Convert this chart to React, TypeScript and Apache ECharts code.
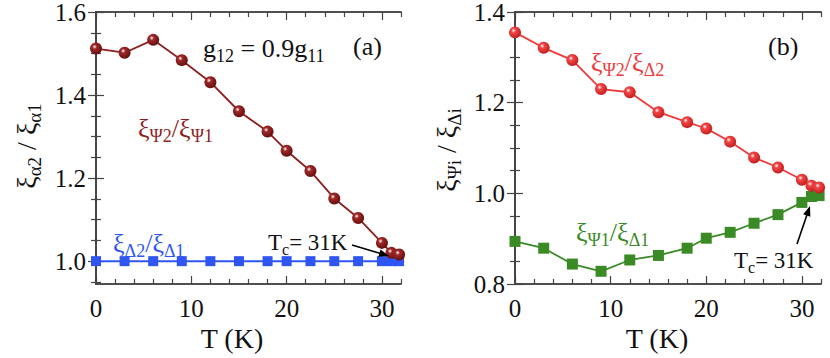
import React, { useEffect, useRef } from "react";
import * as echarts from "echarts";

// ---- data ----
const tempA = [0, 3, 6, 9, 12, 15, 18, 20, 22.5, 25, 27.5, 30, 31, 31.8];
const psiRatioA = [1.512, 1.502, 1.533, 1.484, 1.431, 1.361, 1.312, 1.266, 1.217, 1.151, 1.104, 1.044, 1.02, 1.016];
const deltaRatioA = [1, 1, 1, 1, 1, 1, 1, 1, 1, 1, 1, 1, 1, 1];

const tempB = [0, 3, 6, 9, 12, 15, 18, 20, 22.5, 25, 27.5, 30, 31, 31.8];
const psi2Delta2 = [1.355, 1.321, 1.294, 1.23, 1.223, 1.179, 1.157, 1.143, 1.114, 1.079, 1.057, 1.03, 1.017, 1.013];
const psi1Delta1 = [0.894, 0.879, 0.844, 0.828, 0.853, 0.863, 0.879, 0.901, 0.914, 0.934, 0.953, 0.98, 0.993, 0.995];

const xMajor = [0, 10, 20, 30];
const xMinor = [2, 4, 6, 8, 12, 14, 16, 18, 22, 24, 26, 28, 32];
const yMajorA = [1.0, 1.2, 1.4, 1.6];
const yMinorA = [0.95, 1.05, 1.1, 1.15, 1.25, 1.3, 1.35, 1.45, 1.5, 1.55];
const yMajorB = [0.8, 1.0, 1.2, 1.4];
const yMinorB = [0.85, 0.9, 0.95, 1.05, 1.1, 1.15, 1.25, 1.3, 1.35];

const FONT = "Liberation Serif";
const AXIS_COLOR = "#444";
const DARKRED = "#8e1f1f";
const BLUE = "#2f55f2";
const RED = "#ee3a3a";
const GREEN = "#3a8a26";

const richGfx = (color: string, size: number) => ({
  a: { fontFamily: FONT, fontSize: size, fill: color, lineHeight: size + 8, verticalAlign: "middle" },
  s: { fontFamily: FONT, fontSize: Math.round(size * 0.68), fill: color, lineHeight: Math.round(size * 0.68), verticalAlign: "bottom" },
});

function sphere(base: string, dark: string) {
  return {
    type: "radial",
    x: 0.38,
    y: 0.35,
    r: 0.75,
    colorStops: [
      { offset: 0, color: "#ffffff" },
      { offset: 0.25, color: base },
      { offset: 1, color: dark },
    ],
  };
}

const tickStyle = { color: AXIS_COLOR, width: 1.2 };

function makeXAxes(grid: number) {
  const common = {
    type: "value",
    gridIndex: grid,
    min: 0,
    max: 32,
    axisLine: { show: true, lineStyle: { color: AXIS_COLOR, width: 1.5 } },
    splitLine: { show: false },
    axisLabel: { show: false },
  };
  return [
    { ...common, position: "bottom", axisTick: { show: true, inside: true, length: 8, customValues: xMajor, lineStyle: tickStyle } },
    { ...common, position: "bottom", axisTick: { show: true, inside: true, length: 5, customValues: xMinor, lineStyle: tickStyle } },
    { ...common, position: "top", axisTick: { show: true, inside: true, length: 8, customValues: xMajor, lineStyle: tickStyle } },
    { ...common, position: "top", axisTick: { show: true, inside: true, length: 5, customValues: xMinor, lineStyle: tickStyle } },
  ];
}

function makeYAxes(grid: number, min: number, max: number, major: number[], minor: number[]) {
  const common = {
    type: "value",
    gridIndex: grid,
    min,
    max,
    axisLine: { show: true, lineStyle: { color: AXIS_COLOR, width: 1.5 } },
    splitLine: { show: false },
    axisLabel: { show: false },
  };
  return [
    { ...common, position: "left", axisTick: { show: true, inside: true, length: 8, customValues: major, lineStyle: tickStyle } },
    { ...common, position: "left", axisTick: { show: true, inside: true, length: 5, customValues: minor, lineStyle: tickStyle } },
    { ...common, position: "right", axisTick: { show: true, inside: true, length: 8, customValues: major, lineStyle: tickStyle } },
    { ...common, position: "right", axisTick: { show: true, inside: true, length: 5, customValues: minor, lineStyle: tickStyle } },
  ];
}

function pairs(xs: number[], ys: number[]) {
  return xs.map((x, i) => [x, ys[i]]);
}

function label(x: number, y: number, text: string, color: string, size: number, rotate = 0, align = "left", vAlign = "middle") {
  return {
    type: "text",
    x,
    y,
    rotation: rotate,
    z: 100,
    style: {
      text,
      rich: richGfx(color, size),
      fill: color,
      fontFamily: FONT,
      fontSize: size,
      align,
      verticalAlign: vAlign,
    },
  };
}

function plain(x: number, y: number, text: string, size: number, align: string, vAlign: string) {
  return {
    type: "text",
    x,
    y,
    z: 100,
    style: { text, fill: "#111", fontFamily: FONT, fontSize: size, align, verticalAlign: vAlign },
  };
}

function arrow(x1: number, y1: number, x2: number, y2: number) {
  const dx = x2 - x1;
  const dy = y2 - y1;
  const len = Math.sqrt(dx * dx + dy * dy);
  const ux = dx / len;
  const uy = dy / len;
  const hl = 10;
  const hw = 3.8;
  const bx = x2 - ux * hl;
  const by = y2 - uy * hl;
  return [
    { type: "line", z: 100, shape: { x1, y1, x2: bx + ux * 2, y2: by + uy * 2 }, style: { stroke: "#000", lineWidth: 1.6 } },
    {
      type: "polygon",
      z: 100,
      shape: { points: [[x2, y2], [bx - uy * hw, by + ux * hw], [bx + uy * hw, by - ux * hw]] },
      style: { fill: "#000" },
    },
  ];
}

export default function App() {
  const ref = useRef<HTMLDivElement>(null);
  useEffect(() => {
    if (!ref.current) return;
    const chart = echarts.init(ref.current, undefined, { renderer: "svg" });
    chart.setOption({
      animation: false,
      backgroundColor: "#ffffff",
      grid: [
        { left: 96, top: 12, width: 305, height: 272 },
        { left: 515, top: 12, width: 306, height: 272 },
      ],
      xAxis: [...makeXAxes(0), ...makeXAxes(1)],
      yAxis: [...makeYAxes(0, 0.945, 1.6, yMajorA, yMinorA), ...makeYAxes(1, 0.8, 1.4, yMajorB, yMinorB)],
      series: [
        {
          type: "line",
          xAxisIndex: 0,
          yAxisIndex: 0,
          data: pairs(tempA, deltaRatioA),
          symbol: "rect",
          symbolSize: 10,
          lineStyle: { color: BLUE, width: 2 },
          itemStyle: { color: BLUE },
          z: 3,
        },
        {
          type: "line",
          xAxisIndex: 0,
          yAxisIndex: 0,
          data: pairs(tempA, psiRatioA),
          symbol: "circle",
          symbolSize: 12,
          lineStyle: { color: DARKRED, width: 1.8 },
          itemStyle: { color: sphere("#a02828", "#5a0c0c") },
          z: 4,
        },
        {
          type: "line",
          xAxisIndex: 4,
          yAxisIndex: 4,
          data: pairs(tempB, psi2Delta2),
          symbol: "circle",
          symbolSize: 12,
          lineStyle: { color: RED, width: 1.8 },
          itemStyle: { color: sphere("#f24545", "#b81818") },
          z: 4,
        },
        {
          type: "line",
          xAxisIndex: 4,
          yAxisIndex: 4,
          data: pairs(tempB, psi1Delta1),
          symbol: "rect",
          symbolSize: 11,
          lineStyle: { color: GREEN, width: 1.8 },
          itemStyle: { color: GREEN },
          z: 3,
        },
      ],
    });

    // tick labels placed through the axes' own scales
    const tickTexts: any[] = [];
    try {
      const panels = [
        { xi: 0, yi: 0, yMin: 0.945, yMajor: yMajorA },
        { xi: 4, yi: 4, yMin: 0.8, yMajor: yMajorB },
      ];
      panels.forEach((p) => {
        const bottom = chart.convertToPixel({ yAxisIndex: p.yi }, p.yMin) as number;
        const left = chart.convertToPixel({ xAxisIndex: p.xi }, 0) as number;
        xMajor.forEach((v) => {
          const px = chart.convertToPixel({ xAxisIndex: p.xi }, v) as number;
          tickTexts.push(plain(px, bottom + 12, String(v), 25, "center", "top"));
        });
        p.yMajor.forEach((v) => {
          const py = chart.convertToPixel({ yAxisIndex: p.yi }, v) as number;
          tickTexts.push(plain(left - 10, py, v.toFixed(1), 25, "right", "middle"));
        });
      });
    } catch (e) {
      // ignore
    }

    chart.setOption({
      graphic: [
        ...tickTexts,
        plain(232, 338, "T (K)", 28, "center", "middle"),
        plain(657, 338, "T (K)", 28, "center", "middle"),
        label(26, 146, "{a|ξ}{s|α2}{a| / ξ}{s|α1}", "#111", 28, Math.PI / 2, "center"),
        label(446, 150, "{a|ξ}{s|Ψi}{a| / ξ}{s|Δi}", "#111", 28, Math.PI / 2, "center"),
        label(203, 48, "{a|g}{s|12}{a| = 0.9g}{s|11}", "#111", 26),
        label(353, 46, "{a|(a)}", "#111", 26),
        label(138, 128, "{a|ξ}{s|Ψ2}{a|/ξ}{s|Ψ1}", DARKRED, 26),
        label(113, 243, "{a|ξ}{s|Δ2}{a|/ξ}{s|Δ1}", BLUE, 26),
        label(268, 242, "{a|T}{s|c}{a|= 31K}", "#111", 23),
        ...arrow(352, 245, 389, 256),
        label(768, 46, "{a|(b)}", "#111", 26),
        label(591, 62, "{a|ξ}{s|Ψ2}{a|/ξ}{s|Δ2}", RED, 26),
        label(576, 232, "{a|ξ}{s|Ψ1}{a|/ξ}{s|Δ1}", GREEN, 26),
        label(734, 260, "{a|T}{s|c}{a|= 31K}", "#111", 23),
        ...arrow(797, 244, 810, 206),
      ],
    });
    return () => chart.dispose();
  }, []);
  return <div ref={ref} style={{ position: "fixed", left: 0, top: 0, width: 830, height: 358 }} />;
}
